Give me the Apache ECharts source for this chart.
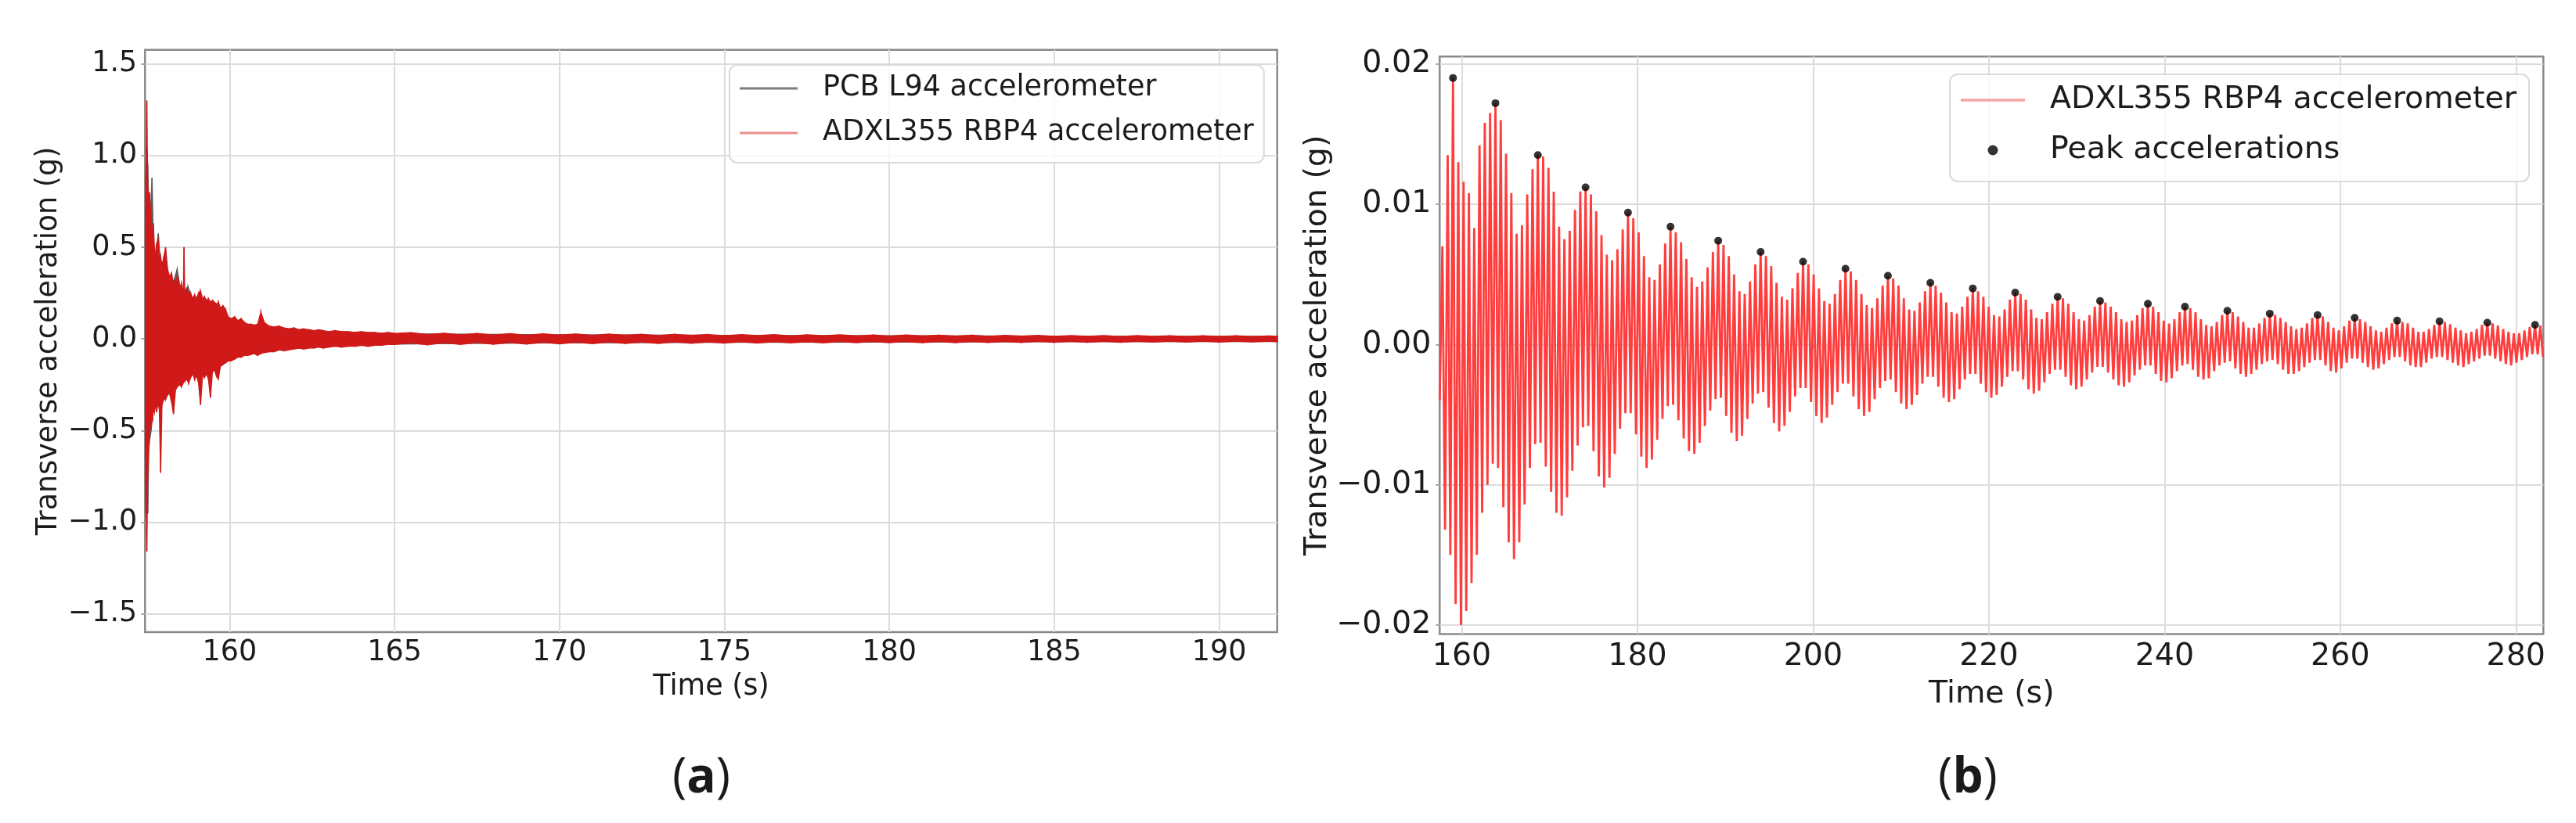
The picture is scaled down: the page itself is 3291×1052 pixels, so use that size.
<!DOCTYPE html>
<html>
<head>
<meta charset="utf-8">
<script src="https://cdn.jsdelivr.net/npm/echarts@6/dist/echarts.min.js"></script>
<style>
  html, body { margin: 0; padding: 0; background: #ffffff; }
  #c { width: 3291px; height: 1052px; }
</style>
</head>
<body>
<div id="c"></div>
<script>
// ---------------- Panel (a): tick values and labels ----------------
const xTicksA = [160, 165, 170, 175, 180, 185, 190];
const xTickLabelsA = ['160', '165', '170', '175', '180', '185', '190'];
const yTicksA = [-1.5, -1.0, -0.5, 0.0, 0.5, 1.0, 1.5];
const yTickLabelsA = ['\u22121.5', '\u22121.0', '\u22120.5', '0.0', '0.5', '1.0', '1.5'];

// ---------------- Panel (a): ADXL355 envelope (upper / lower) ----------------
const timeA = [
  157.44, 157.47, 157.49, 157.51, 157.54, 157.57, 157.60, 157.63, 157.66, 157.69, 157.72, 157.75, 157.79, 157.83, 157.87, 157.91, 157.95, 158.00,
  158.06, 158.12, 158.18, 158.24, 158.30, 158.36, 158.42, 158.48, 158.54, 158.60, 158.62, 158.64, 158.70, 158.76, 158.82, 158.88, 158.94, 159.00,
  159.06, 159.12, 159.18, 159.24, 159.30, 159.36, 159.42, 159.48, 159.54, 159.60, 159.66, 159.72, 159.80, 159.88, 159.96,
  160.05, 160.15, 160.25, 160.35, 160.45, 160.55, 160.65, 160.75, 160.85, 160.95, 161.05, 161.2, 161.35, 161.5, 161.65, 161.8, 161.95,
  162.1, 162.25, 162.4, 162.55, 162.7, 162.85, 163.0, 163.2, 163.4, 163.6, 163.8, 164.0, 164.2, 164.4, 164.6, 164.8, 165.0,
  165.5, 166, 166.5, 167, 167.5, 168, 168.5, 169, 169.5, 170, 170.5, 171, 171.5, 172, 172.5, 173, 173.5, 174, 174.5, 175,
  175.5, 176, 176.5, 177, 177.5, 178, 178.5, 179, 179.5, 180, 180.5, 181, 181.5, 182, 182.5, 183, 183.5, 184, 184.5, 185,
  185.5, 186, 186.5, 187, 187.5, 188, 188.5, 189, 189.5, 190, 190.5, 191, 191.5, 191.76
];
const adxlUpperA = [
  0.20, 0.95, 1.30, 0.90, 0.75, 0.80, 0.70, 0.62, 0.55, 0.63, 0.50, 0.46, 0.52, 0.54, 0.42, 0.45, 0.40, 0.44,
  0.50, 0.38, 0.34, 0.36, 0.30, 0.32, 0.34, 0.28, 0.30, 0.26, 0.50, 0.25, 0.27, 0.24, 0.25, 0.22, 0.24, 0.22,
  0.25, 0.26, 0.22, 0.23, 0.21, 0.22, 0.20, 0.21, 0.20, 0.19, 0.20, 0.17, 0.18, 0.16, 0.12,
  0.11, 0.12, 0.10, 0.11, 0.09, 0.08, 0.08, 0.075, 0.08, 0.145, 0.09, 0.07, 0.065, 0.07, 0.06, 0.055, 0.06,
  0.05, 0.055, 0.05, 0.045, 0.05, 0.045, 0.04, 0.045, 0.04, 0.04, 0.035, 0.04, 0.035, 0.035, 0.03, 0.035, 0.03,
  0.034, 0.024, 0.031, 0.022, 0.030, 0.021, 0.029, 0.020, 0.028, 0.021, 0.027, 0.019, 0.026, 0.020, 0.025, 0.018, 0.025, 0.019, 0.024, 0.017,
  0.023, 0.018, 0.023, 0.016, 0.022, 0.017, 0.022, 0.016, 0.021, 0.015, 0.021, 0.016, 0.020, 0.015, 0.020, 0.014, 0.019, 0.015, 0.019, 0.014,
  0.018, 0.014, 0.018, 0.013, 0.018, 0.014, 0.017, 0.013, 0.017, 0.013, 0.017, 0.013, 0.016, 0.014
];
const adxlLowerA = [
  -0.30, -0.90, -1.16, -0.80, -0.62, -0.50, -0.48, -0.42, -0.45, -0.38, -0.40, -0.36, -0.40, -0.35, -0.38, -0.73, -0.36, -0.33,
  -0.33, -0.30, -0.30, -0.34, -0.41, -0.28, -0.26, -0.25, -0.26, -0.24, -0.22, -0.23, -0.22, -0.24, -0.21, -0.19, -0.22, -0.20,
  -0.24, -0.36, -0.20, -0.21, -0.19, -0.22, -0.32, -0.18, -0.17, -0.20, -0.22, -0.15, -0.14, -0.13, -0.12,
  -0.12, -0.11, -0.10, -0.10, -0.09, -0.09, -0.085, -0.08, -0.09, -0.08, -0.075, -0.07, -0.07, -0.06, -0.065, -0.06, -0.055,
  -0.05, -0.055, -0.05, -0.05, -0.045, -0.05, -0.045, -0.04, -0.045, -0.04, -0.04, -0.035, -0.04, -0.035, -0.035, -0.03, -0.03,
  -0.022, -0.032, -0.021, -0.030, -0.020, -0.029, -0.020, -0.028, -0.019, -0.027, -0.019, -0.026, -0.018, -0.025, -0.018, -0.025, -0.017, -0.024, -0.017, -0.023,
  -0.016, -0.023, -0.016, -0.022, -0.016, -0.022, -0.015, -0.021, -0.015, -0.021, -0.015, -0.020, -0.014, -0.020, -0.014, -0.019, -0.014, -0.019, -0.013, -0.018,
  -0.013, -0.018, -0.013, -0.018, -0.013, -0.017, -0.012, -0.017, -0.012, -0.017, -0.012, -0.016, -0.012, -0.015
];

// ---------------- Panel (a): PCB L94 envelope (upper / lower) ----------------
const timeP = [
  157.44, 157.46, 157.49, 157.52, 157.55, 157.58, 157.62, 157.65, 157.68, 157.72, 157.78, 157.84, 157.90, 157.98,
  158.08, 158.20, 158.32, 158.41, 158.50, 158.62, 158.74, 158.86, 159.0, 159.2, 159.4, 159.6, 159.8, 160.0,
  160.3, 160.6, 161.0, 161.5, 162.0, 163.0, 164.0, 165.0, 167.0, 170.0, 175.0, 180.0, 185.0, 191.76
];
const pcbUpperA = [
  0.30, 0.90, 1.04, 0.95, 0.70, 0.60, 0.75, 0.88, 0.60, 0.45, 0.48, 0.575, 0.42, 0.38,
  0.34, 0.30, 0.32, 0.38, 0.28, 0.26, 0.285, 0.22, 0.21, 0.20, 0.19, 0.17, 0.15, 0.11,
  0.09, 0.075, 0.065, 0.06, 0.05, 0.04, 0.035, 0.028, 0.026, 0.022, 0.019, 0.017, 0.015, 0.014
];
const pcbLowerA = [
  -0.30, -0.95, -0.95, -0.95, -0.60, -0.55, -0.50, -0.45, -0.40, -0.38, -0.35, -0.33, -0.34, -0.30,
  -0.32, -0.28, -0.26, -0.25, -0.22, -0.22, -0.20, -0.19, -0.18, -0.17, -0.17, -0.15, -0.13, -0.11,
  -0.09, -0.08, -0.07, -0.06, -0.05, -0.04, -0.035, -0.028, -0.025, -0.022, -0.019, -0.017, -0.015, -0.014
];

// ---------------- Panel (b): tick values and labels ----------------
const xTicksB = [160, 180, 200, 220, 240, 260, 280];
const xTickLabelsB = ['160', '180', '200', '220', '240', '260', '280'];
const yTicksB = [-0.02, -0.01, 0, 0.01, 0.02];
const yTickLabelsB = ['\u22120.02', '\u22120.01', '0.00', '0.01', '0.02'];

// ---------------- Panel (b): ADXL355 record, alternating troughs / crests ----------------
const sampleStartB = 157.4906;   // time of first sample (s)
const sampleStepB = 0.30189;     // time between successive crest/trough samples (s)
const adxlUpperB = [
  0.0070, 0.0135, 0.0190, 0.0130, 0.0116, 0.0108, 0.0083, 0.0142, 0.0158, 0.0165,
  0.0172, 0.0160, 0.0136, 0.0108, 0.0079, 0.0085, 0.0107, 0.0125,
  0.0135, 0.0134, 0.0126, 0.0109, 0.0084, 0.0075, 0.0081, 0.0096, 0.0109,
  0.0112, 0.0107, 0.0095, 0.0078, 0.0064, 0.0060, 0.0068, 0.0082,
  0.0094, 0.0090, 0.0080, 0.0063, 0.0048, 0.0046, 0.0057, 0.0072,
  0.0084, 0.0080, 0.0073, 0.0061, 0.0048, 0.0041, 0.0045, 0.0055, 0.0066,
  0.0074, 0.0071, 0.0063, 0.0050, 0.0038, 0.0036, 0.0045, 0.0057,
  0.0066, 0.0063, 0.0056, 0.0044, 0.0034, 0.0032, 0.0040, 0.0051,
  0.0059, 0.0057, 0.0050, 0.0040, 0.0031, 0.0029, 0.0036, 0.0046,
  0.0054, 0.0052, 0.0046, 0.0036, 0.0028, 0.0026, 0.0033, 0.0042,
  0.0049, 0.0047, 0.0042, 0.0033, 0.0025, 0.0024, 0.0030, 0.0038,
  0.0044, 0.0042, 0.0037, 0.0030, 0.0023, 0.0022, 0.0027, 0.0034,
  0.0040, 0.0038, 0.0034, 0.0027, 0.0021, 0.0020, 0.0025, 0.0032,
  0.0037, 0.0036, 0.0032, 0.0025, 0.0019, 0.0018, 0.0023, 0.0029,
  0.0034, 0.0033, 0.0029, 0.0023, 0.0018, 0.0017, 0.0021, 0.0027,
  0.0031, 0.0030, 0.0027, 0.0023, 0.0018, 0.0016, 0.0017, 0.0021, 0.0026,
  0.0029, 0.0027, 0.0023, 0.0017, 0.0015, 0.0018, 0.0023,
  0.0027, 0.0026, 0.0023, 0.0018, 0.0014, 0.0013, 0.0016, 0.0021,
  0.0024, 0.0023, 0.0020, 0.0016, 0.0012, 0.0012, 0.0015, 0.0019,
  0.0022, 0.0021, 0.0019, 0.0016, 0.0013, 0.0011, 0.0012, 0.0015, 0.0019,
  0.0021, 0.0020, 0.0016, 0.0012, 0.0010, 0.0013, 0.0017,
  0.0019, 0.0018, 0.0016, 0.0013, 0.0010, 0.0009, 0.0012, 0.0015,
  0.0017, 0.0016, 0.0015, 0.0012, 0.0009, 0.0009, 0.0011, 0.0014,
  0.00165, 0.0016, 0.00145, 0.0012, 0.0010, 0.0008, 0.0009, 0.0011, 0.0014,
  0.00155, 0.0015, 0.00135, 0.0011, 0.0009, 0.0008, 0.0008, 0.0010, 0.00125,
  0.0014, 0.00135
];
const adxlLowerB = [
  -0.0040, -0.0132, -0.0150, -0.0185, -0.0200, -0.0190, -0.0170, -0.0150, -0.0120, -0.0100, -0.0085,
  -0.0088, -0.0116, -0.0141, -0.0153, -0.0141, -0.0114, -0.0088, -0.0071,
  -0.0070, -0.0087, -0.0105, -0.0120, -0.0122, -0.0109, -0.0090, -0.0072, -0.0059,
  -0.0058, -0.0076, -0.0094, -0.0102, -0.0095, -0.0078, -0.0060, -0.0049,
  -0.0049, -0.0064, -0.0080, -0.0088, -0.0082, -0.0068, -0.0053, -0.0044,
  -0.0043, -0.0054, -0.0067, -0.0076, -0.0078, -0.0070, -0.0058, -0.0047, -0.0039,
  -0.0038, -0.0051, -0.0063, -0.0069, -0.0065, -0.0053, -0.0042, -0.0035,
  -0.0034, -0.0045, -0.0056, -0.0062, -0.0058, -0.0048, -0.0037, -0.0031,
  -0.0031, -0.0041, -0.0051, -0.0056, -0.0052, -0.0043, -0.0034, -0.0028,
  -0.0028, -0.0037, -0.0046, -0.0051, -0.0048, -0.0039, -0.0031, -0.0026,
  -0.0025, -0.0034, -0.0042, -0.0046, -0.0043, -0.0036, -0.0028, -0.0023,
  -0.0023, -0.0030, -0.0038, -0.0041, -0.0039, -0.0032, -0.0025, -0.0021,
  -0.0021, -0.0028, -0.0034, -0.0038, -0.0036, -0.0030, -0.0023, -0.0019,
  -0.0019, -0.0025, -0.0032, -0.0035, -0.0033, -0.0027, -0.0021, -0.0018,
  -0.0018, -0.0023, -0.0029, -0.0032, -0.0030, -0.0025, -0.0020, -0.0016,
  -0.0016, -0.0020, -0.0025, -0.0029, -0.0030, -0.0027, -0.0022, -0.0018, -0.0015,
  -0.0015, -0.0021, -0.0026, -0.0027, -0.0024, -0.0019, -0.0015,
  -0.0014, -0.0018, -0.0023, -0.0025, -0.0024, -0.0019, -0.0015, -0.0013,
  -0.0012, -0.0017, -0.0021, -0.0023, -0.0021, -0.0018, -0.0014, -0.0012,
  -0.0011, -0.0014, -0.0018, -0.0021, -0.0021, -0.0019, -0.0016, -0.0013, -0.0011,
  -0.0011, -0.0015, -0.0019, -0.0020, -0.0017, -0.0013, -0.0010,
  -0.0010, -0.0013, -0.0016, -0.0018, -0.0017, -0.0014, -0.0011, -0.0009,
  -0.0009, -0.0012, -0.0015, -0.0016, -0.0016, -0.0013, -0.0010, -0.0009,
  -0.0009, -0.0011, -0.0013, -0.0015, -0.0016, -0.0014, -0.0012, -0.0010, -0.0008,
  -0.0008, -0.0010, -0.0012, -0.0014, -0.0015, -0.0013, -0.0011, -0.0009, -0.0007,
  -0.0007, -0.0009
];

// ---------------- Panel (b): marked peak accelerations ----------------
const peakTimesB = [159.00, 163.83, 168.66, 174.09, 178.92, 183.76, 189.19, 194.02, 198.85, 203.68, 208.51, 213.34, 218.17,
  223.00, 227.83, 232.66, 238.10, 242.32, 247.15, 251.98, 257.42, 261.64, 266.47, 271.30, 276.74, 282.17];
const peakValuesB = [0.0190, 0.0172, 0.0135, 0.0112, 0.0094, 0.0084, 0.0074, 0.0066, 0.0059, 0.0054, 0.0049, 0.0044, 0.0040,
  0.0037, 0.0034, 0.0031, 0.0029, 0.0027, 0.0024, 0.0022, 0.0021, 0.0019, 0.0017, 0.00165, 0.00155, 0.0014];

// ---------------- styling ----------------
const FONT = 'DejaVu Sans';
const TEXT = '#1c1c1c';
const SPINE = '#8a8a8a';
const GRIDC = '#dcdcdc';
const FS_A = 36.5;
const FS_B = 39.5;

function tickFmt(values, labels) {
  return function (v) {
    const i = values.findIndex(function (x) { return Math.abs(x - v) < 1e-9; });
    return i >= 0 ? labels[i] : '';
  };
}

function makeAxis(o) {
  return {
    type: 'value', gridIndex: o.grid, min: o.min, max: o.max,
    name: o.name, nameLocation: 'middle', nameGap: o.nameGap,
    nameTextStyle: { fontFamily: FONT, fontSize: o.fs, color: TEXT },
    axisLine: { show: false },
    axisTick: { show: true, inside: false, length: 5, customValues: o.ticks, lineStyle: { color: SPINE, width: 1.5 } },
    axisLabel: {
      show: true, customValues: o.ticks, formatter: tickFmt(o.ticks, o.labels),
      fontFamily: FONT, fontSize: o.fs, color: TEXT, margin: o.margin, padding: o.pad || 0
    },
    splitLine: { show: true, lineStyle: { color: GRIDC, width: 2 } }
  };
}

function bandSeries(name, times, upper, lower, color, z) {
  return {
    type: 'custom', name: name, xAxisIndex: 0, yAxisIndex: 0, clip: true, silent: true, z: z,
    itemStyle: { color: color },
    encode: { x: 0, y: [1, 2] },
    data: times.map(function (t, i) { return [t, upper[i], lower[i]]; }),
    renderItem: function (params, api) {
      const i = params.dataIndex;
      if (i >= times.length - 1) return { type: 'group', children: [] };
      const pts = [
        api.coord([times[i], upper[i]]),
        api.coord([times[i + 1], upper[i + 1]]),
        api.coord([times[i + 1], lower[i + 1]]),
        api.coord([times[i], lower[i]])
      ];
      return { type: 'polygon', shape: { points: pts }, style: { fill: color, stroke: color, lineWidth: 1.4 } };
    }
  };
}

// interleave troughs and crests of panel (b) on the sampling grid
const lineB = [];
for (let i = 0; i < adxlLowerB.length; i++) {
  lineB.push([sampleStartB + 2 * i * sampleStepB, adxlLowerB[i]]);
  if (i < adxlUpperB.length) lineB.push([sampleStartB + (2 * i + 1) * sampleStepB, adxlUpperB[i]]);
}
const peaksB = peakTimesB.map(function (t, i) { return [t, peakValuesB[i]]; });

const chart = echarts.init(document.getElementById('c'), null, { renderer: 'canvas', width: 3291, height: 1052 });

const option = {
  animation: false,
  backgroundColor: '#ffffff',
  grid: [
    { left: 185.3, top: 63.7, width: 1446.4, height: 744.3, show: true, borderColor: SPINE, borderWidth: 2.5, backgroundColor: 'transparent' },
    { left: 1839.3, top: 72.3, width: 1410, height: 738.2, show: true, borderColor: SPINE, borderWidth: 2.5, backgroundColor: 'transparent' }
  ],
  xAxis: [
    makeAxis({ grid: 0, min: 157.4376, max: 191.757, name: 'Time (s)', nameGap: 52, fs: FS_A, ticks: xTicksA, labels: xTickLabelsA, margin: 8 }),
    makeAxis({ grid: 1, min: 157.487, max: 283.12, name: 'Time (s)', nameGap: 57, fs: FS_B, ticks: xTicksB, labels: xTickLabelsB, margin: 9 })
  ],
  yAxis: [
    makeAxis({ grid: 0, min: -1.5994, max: 1.5768, name: 'Transverse acceleration (g)', nameGap: 104, fs: FS_A, ticks: yTicksA, labels: yTickLabelsA, margin: 10, pad: [5, 0, 0, 0] }),
    makeAxis({ grid: 1, min: -0.02064, max: 0.020524, name: 'Transverse acceleration (g)', nameGap: 136, fs: FS_B, ticks: yTicksB, labels: yTickLabelsB, margin: 11, pad: [5, 0, 0, 0] })
  ],
  legend: [
    {
      orient: 'vertical', left: 932, top: 83, padding: [8, 13, 16, 13], itemGap: 13,
      itemWidth: 74, itemHeight: 3, selectedMode: false,
      backgroundColor: 'rgba(255,255,255,0.8)', borderColor: '#dadada', borderWidth: 2, borderRadius: 10,
      textStyle: { fontFamily: FONT, fontSize: FS_A, color: TEXT, lineHeight: 44, padding: [0, 0, 0, 27] },
      data: [
        { name: 'PCB L94 accelerometer', icon: 'rect', itemStyle: { color: '#7d7d7d' } },
        { name: 'ADXL355 RBP4 accelerometer', icon: 'rect', itemStyle: { color: '#ec8e8e' } }
      ]
    },
    {
      orient: 'vertical', left: 2491, top: 95, padding: [9, 16, 80, 14], z: 5,
      itemWidth: 82, itemHeight: 3.5, selectedMode: false,
      backgroundColor: 'rgba(255,255,255,0.8)', borderColor: '#dadada', borderWidth: 2, borderRadius: 10,
      textStyle: { fontFamily: FONT, fontSize: FS_B, color: TEXT, lineHeight: 48, padding: [0, 0, 0, 27] },
      data: [
        { name: 'ADXL355 RBP4 accelerometer', icon: 'rect', itemStyle: { color: '#f7a3a3' } }
      ]
    },
    {
      orient: 'vertical', left: 2539.5, top: 168, padding: 0, z: 6,
      itemWidth: 13, itemHeight: 13, selectedMode: false,
      textStyle: { fontFamily: FONT, fontSize: FS_B, color: TEXT, lineHeight: 48, padding: [0, 0, 0, 61.5] },
      data: [
        { name: 'Peak accelerations', icon: 'circle', itemStyle: { color: '#000000' } }
      ]
    }
  ],
  graphic: [
    {
      type: 'text', x: 896, y: 995, z: 10,
      style: {
        text: '{p|(}{b|a}{p|)}', align: 'center', verticalAlign: 'middle',
        rich: {
          p: { fontFamily: 'Open Sans', fontSize: 62, fill: '#1a1a1a' },
          b: { fontFamily: 'Open Sans', fontSize: 62, fontWeight: 'bold', fill: '#1a1a1a' }
        }
      }
    },
    {
      type: 'text', x: 2514, y: 995, z: 10,
      style: {
        text: '{p|(}{b|b}{p|)}', align: 'center', verticalAlign: 'middle',
        rich: {
          p: { fontFamily: 'Open Sans', fontSize: 62, fill: '#1a1a1a' },
          b: { fontFamily: 'Open Sans', fontSize: 62, fontWeight: 'bold', fill: '#1a1a1a' }
        }
      }
    }
  ],
  series: [
    bandSeries('PCB L94 accelerometer', timeP, pcbUpperA, pcbLowerA, '#5c5c5c', 2),
    bandSeries('ADXL355 RBP4 accelerometer', timeA, adxlUpperA, adxlLowerA, '#d01a1a', 3),
    {
      type: 'line', name: 'ADXL355 RBP4 accelerometer', xAxisIndex: 1, yAxisIndex: 1,
      data: lineB, showSymbol: false, symbol: 'none', clip: true, sampling: 'none', z: 2,
      lineStyle: { color: '#ff3d3d', width: 2.8 }, itemStyle: { color: '#ff3d3d' }
    },
    {
      type: 'scatter', name: 'Peak accelerations', xAxisIndex: 1, yAxisIndex: 1,
      data: peaksB, symbolSize: 10, z: 4, itemStyle: { color: '#000000' }
    }
  ]
};

chart.setOption(option);
</script>
</body>
</html>
